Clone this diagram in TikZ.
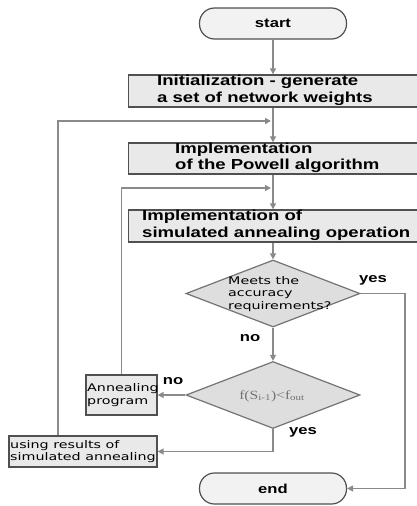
\documentclass[tikz,border=0pt]{standalone}
\usepackage{fontspec}
\setmainfont{Liberation Sans}
\newfontfamily\wideboldfont[FakeStretch=1.28]{Liberation Sans Bold}
\newfontfamily\smallfont[FakeStretch=1.36]{DejaVu Sans}
\newfontfamily\serifont[FakeStretch=1.25]{Liberation Serif}
\usetikzlibrary{shapes.geometric,arrows.meta}
\definecolor{boxfill}{HTML}{E9E9E9}
\definecolor{boxline}{HTML}{505050}
\definecolor{arrowc}{HTML}{8A8A8A}
\tikzset{
  box/.style={draw=boxline, fill=boxfill, line width=1.4pt, inner sep=0pt},
  term/.style={draw=boxline, fill=boxfill!60, line width=1.2pt, rounded corners=15pt, inner sep=0pt, minimum width=147pt, minimum height=31pt, font=\wideboldfont\fontsize{13}{15}\selectfont},
  dia/.style={diamond, draw=boxline!80, fill=boxfill!90!gray, line width=1.2pt, inner sep=0pt, minimum width=174pt, minimum height=67pt},
  bigtxt/.style={anchor=west, align=left, inner sep=0pt, font=\wideboldfont\fontsize{14.5}{16.5}\selectfont},
  smalltxt/.style={align=left, inner sep=0pt, font=\smallfont\fontsize{10.5}{12.5}\selectfont},
  lab/.style={inner sep=0pt, font=\wideboldfont\fontsize{13}{15}\selectfont},
  conn/.style={draw=arrowc, line width=1.3pt},
  arr/.style={conn, -{Triangle[length=6pt,width=6pt]}},
}
\begin{document}
\begin{tikzpicture}[x=1pt,y=-1pt]
\useasboundingbox (0,0) rectangle (417,506);
% terminals
\node[term] (start) at (273,23.5) {start};
\node[term] (end) at (273,488.5) {end};
% process boxes
\node[box, minimum width=289pt, minimum height=32pt] (init) at (273,91) {};
\node[bigtxt] (initt) at (157,90.5) {Initialization - generate\\a set of network weights};
\node[box, minimum width=289pt, minimum height=31pt] (powell) at (273,158.5) {};
\node[bigtxt] (powellt) at (175,158) {Implementation\\of the Powell algorithm};
\node[box, minimum width=289pt, minimum height=32pt] (sa) at (273,226) {};
\node[bigtxt] (sat) at (142,225.5) {Implementation of\\simulated annealing operation};
% decisions
\node[dia] (d1) at (273,293.5) {};
\node[smalltxt, anchor=west] (d1t) at (228,294) {Meets the\\accuracy\\requirements?};
\node[dia] (d2) at (273,395) {};
\node[inner sep=0pt, text=black!55, font=\serifont\fontsize{12.5}{14}\selectfont] (d2t) at (272,396) {f(S\textsubscript{i-1})<f\textsubscript{out}};
% small boxes
\node[box, line width=1.2pt, minimum width=71pt, minimum height=40pt] (ann) at (121.5,395) {};
\node[smalltxt, anchor=west] (annt) at (87,395) {Annealing\\program};
\node[box, line width=1.2pt, minimum width=148pt, minimum height=31pt] (using) at (83,451.5) {};
\node[smalltxt, anchor=west] (usingt) at (10,451.5) {using results of\\simulated annealing};
% coordinates
\coordinate (fb1) at (273,121);
\coordinate (fb2) at (273,188);
\coordinate (ul) at (58,121);
\coordinate (yr) at (405,293.5);
% connectors
\draw[arr] (start.south) -- (init.north);
\draw[arr] (init.south) -- (powell.north);
\draw[arr] (powell.south) -- (sa.north);
\draw[arr] (sa.south) -- (d1.north);
\draw[arr] (d1.south) -- (d2.north);
\draw[arr] (ul |- using.north) -- (ul) -- ([xshift=-2pt]fb1);
\draw[arr] (ann.north) |- ([xshift=-2pt]fb2);
\draw[arr] (d1.east) -- (yr) |- (end.east);
\draw[arr] (d2.west) -- (ann.east);
\draw[arr] (d2.south) |- (using.east);
% labels
\node[lab] (yes1) at (373,280) {yes};
\node[lab] (no1) at (250,338) {no};
\node[lab] (no2) at (173,381) {no};
\node[lab] (yes2) at (303,432) {yes};
\end{tikzpicture}
\end{document}
